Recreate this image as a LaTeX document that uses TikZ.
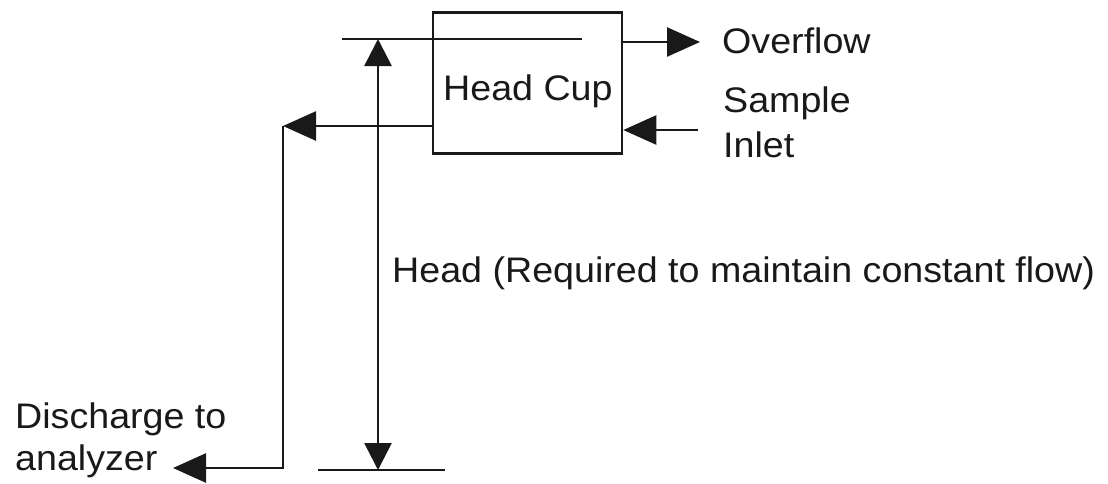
\documentclass[tikz,border=0pt]{standalone}
\usepackage{fontspec}
\setmainfont{Liberation Sans}[FakeStretch=1.06]
\usetikzlibrary{arrows.meta}
\begin{document}
\begin{tikzpicture}[x=1pt,y=-1pt,
  line/.style={line width=2.6pt,black!90},
  arr/.style={line,-{Triangle[length=33pt,width=29pt]}},
  darr/.style={line,{Triangle[length=27pt,width=27pt]}-{Triangle[length=27pt,width=27pt]}},
  lbl/.style={inner sep=0pt,anchor=base west,font=\fontsize{35.5}{42}\selectfont,text=black!90}]
\useasboundingbox (0,0) rectangle (1108,483);
% top and bottom level lines
\coordinate (t1) at (342,39);
\coordinate (t2) at (582,39);
\coordinate (b1) at (318,470);
\coordinate (b2) at (445,470);
\draw[line] (t1) -- (t2);
\draw[line] (b1) -- (b2);
% head cup box
\node[draw,line,fill=none,minimum width=189pt,minimum height=141pt,inner sep=0pt] (cup) at (527.5,83) {};
\node[lbl] (cuplbl) at (443,100) {Head Cup};
% head dimension
\coordinate (htop) at (378,39);
\coordinate (hbot) at (378,470);
\draw[darr] (htop) -- (hbot);
% overflow
\coordinate (ovf) at (700,42);
\draw[arr] (cup.east |- ovf) -- (ovf);
\node[lbl] (ovflbl) at (722,53) {Overflow};
% sample inlet
\coordinate (inl) at (698,130);
\draw[arr] (inl) -- (cup.east |- inl);
\node[lbl] (smp) at (723,112) {Sample};
\node[lbl] (inlt) at (723,157) {Inlet};
% discharge
\coordinate (corner) at (283,126);
\coordinate (dis) at (173,468);
\draw[arr] (cup.west |- corner) -- (corner);
\draw[arr] (corner) |- (dis);
\node[lbl] (dis1) at (15,428) {Discharge to};
\node[lbl] (dis2) at (15,470) {analyzer};
% head label
\node[lbl] (headlbl) at (392,282) {Head (Required to maintain constant flow)};
\end{tikzpicture}
\end{document}
